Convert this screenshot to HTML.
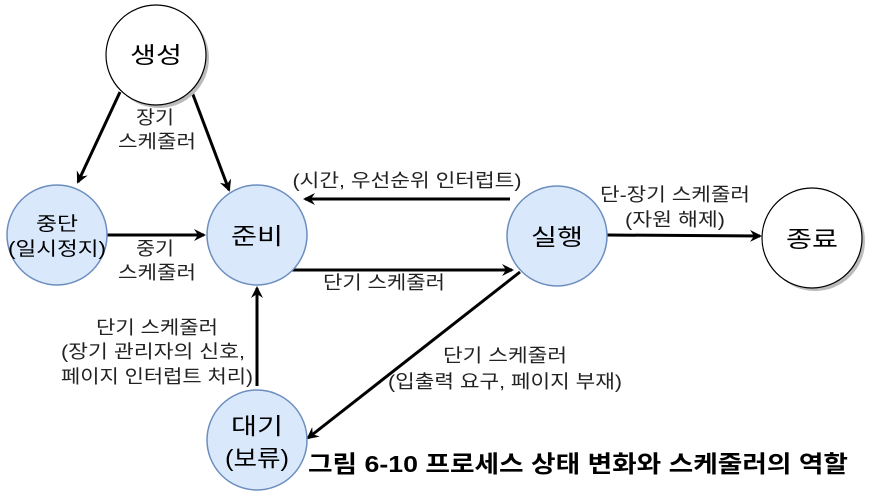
<!DOCTYPE html>
<html><head><meta charset="utf-8"><style>
html,body{margin:0;padding:0;background:#fff;}
svg{display:block;}
text{font-family:"Liberation Sans","Noto Sans CJK KR",sans-serif;}
</style></head><body>
<svg width="870" height="501" viewBox="0 0 870 501" xmlns="http://www.w3.org/2000/svg">
<defs>
<marker id="a" markerWidth="12" markerHeight="12" refX="10" refY="6" orient="auto" markerUnits="userSpaceOnUse">
<path d="M0,0 L12,6 L0,12 L4,6 Z" fill="#000"/>
</marker>
</defs>
<g stroke="#000" stroke-width="3" fill="none" marker-end="url(#a)">
<line x1="120" y1="92" x2="78" y2="182"/>
<line x1="192" y1="92" x2="229" y2="190"/>
<line x1="107" y1="235" x2="204" y2="235"/>
<line x1="510" y1="199" x2="305" y2="199"/>
<line x1="292" y1="270" x2="512" y2="270"/>
<line x1="607" y1="235" x2="760" y2="236"/>
<line x1="257" y1="386" x2="257" y2="288"/>
<line x1="520" y1="272" x2="308" y2="438"/>
</g>
<circle cx="159" cy="58" r="50" fill="#bbb"/>
<circle cx="156" cy="55" r="50" fill="#fff" stroke="#000" stroke-width="1.2"/>
<circle cx="815" cy="241" r="50" fill="#bbb"/>
<circle cx="812" cy="238" r="50" fill="#fff" stroke="#000" stroke-width="1.2"/>
<g fill="#dae8fc" stroke="#6c8ebf" stroke-width="1.5">
<circle cx="57" cy="235" r="50"/>
<circle cx="257" cy="235" r="50"/>
<circle cx="557" cy="236" r="50"/>
<circle cx="257" cy="440" r="50"/>
</g>
<g font-size="23" text-anchor="middle" fill="#000" lengthAdjust="spacingAndGlyphs">
<text x="156" y="63" textLength="52" lengthAdjust="spacingAndGlyphs">생성</text>
<text x="257" y="244" textLength="52" lengthAdjust="spacingAndGlyphs">준비</text>
<text x="557" y="245" textLength="52" lengthAdjust="spacingAndGlyphs">실행</text>
<text x="812" y="247" textLength="52" lengthAdjust="spacingAndGlyphs">종료</text>
<text x="257" y="434" textLength="52" lengthAdjust="spacingAndGlyphs">대기</text>
<text x="257" y="466" textLength="64" lengthAdjust="spacingAndGlyphs">(보류)</text>
</g>
<g font-size="19" text-anchor="middle" fill="#000">
<text x="57" y="230" textLength="42" lengthAdjust="spacingAndGlyphs">중단</text>
<text x="57" y="255" textLength="98" lengthAdjust="spacingAndGlyphs">(일시정지)</text>
</g>
<g font-size="18.5" text-anchor="middle" fill="#222">
<text x="155" y="124" textLength="38" lengthAdjust="spacingAndGlyphs">장기</text>
<text x="157" y="148" textLength="78" lengthAdjust="spacingAndGlyphs">스케줄러</text>
<text x="155" y="255" textLength="38" lengthAdjust="spacingAndGlyphs">중기</text>
<text x="157" y="279" textLength="78" lengthAdjust="spacingAndGlyphs">스케줄러</text>
<text x="407" y="187" textLength="229" lengthAdjust="spacingAndGlyphs">(시간, 우선순위 인터럽트)</text>
<text x="384" y="289" textLength="122" lengthAdjust="spacingAndGlyphs">단기 스케줄러</text>
<text x="675" y="201" textLength="150" lengthAdjust="spacingAndGlyphs">단-장기 스케줄러</text>
<text x="675" y="226" textLength="100" lengthAdjust="spacingAndGlyphs">(자원 해제)</text>
<text x="157" y="334" textLength="122" lengthAdjust="spacingAndGlyphs">단기 스케줄러</text>
<text x="153" y="358" textLength="184" lengthAdjust="spacingAndGlyphs">(장기 관리자의 신호,</text>
<text x="157" y="383" textLength="192" lengthAdjust="spacingAndGlyphs">페이지 인터럽트 처리)</text>
<text x="505" y="362" textLength="124" lengthAdjust="spacingAndGlyphs">단기 스케줄러</text>
<text x="505" y="388" textLength="234" lengthAdjust="spacingAndGlyphs">(입출력 요구, 페이지 부재)</text>
</g>
<text x="308" y="472" font-size="23.5" font-weight="bold" fill="#000" textLength="540" lengthAdjust="spacingAndGlyphs">그림 6-10 프로세스 상태 변화와 스케줄러의 역할</text>
</svg>
</body></html>
